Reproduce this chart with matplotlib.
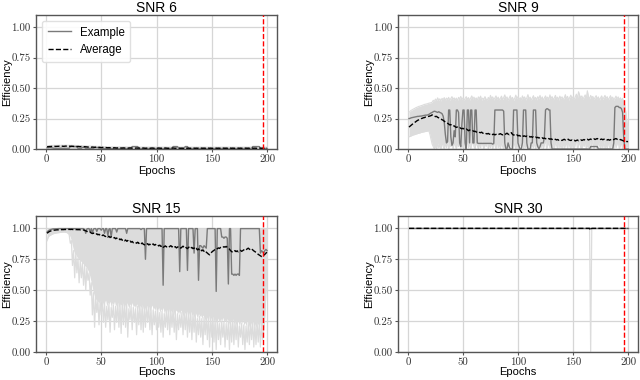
import numpy as np
import matplotlib
matplotlib.use("Agg")
import matplotlib.pyplot as plt
from matplotlib.ticker import FuncFormatter

plt.rcParams['font.family'] = ['Liberation Sans', 'DejaVu Sans']

epochs = np.arange(1, 201)
titles = ["SNR 6", "SNR 9", "SNR 15", "SNR 30"]
stop_epoch = 196

# ---------------- SNR 6 ----------------
avg6 = [
    0.018, 0.019, 0.020, 0.020, 0.021, 0.021, 0.022, 0.022, 0.021, 0.022,
    0.022, 0.023, 0.022, 0.023, 0.023, 0.022, 0.023, 0.024, 0.023, 0.022,
    0.023, 0.022, 0.023, 0.022, 0.021, 0.022, 0.021, 0.020, 0.021, 0.020,
    0.019, 0.020, 0.019, 0.018, 0.019, 0.018, 0.017, 0.016, 0.017, 0.016,
    0.015, 0.016, 0.015, 0.014, 0.015, 0.014, 0.013, 0.014, 0.013, 0.012,
    0.013, 0.012, 0.011, 0.012, 0.011, 0.010, 0.011, 0.010, 0.009, 0.010,
    0.009, 0.010, 0.009, 0.008, 0.009, 0.008, 0.009, 0.008, 0.008, 0.009,
    0.008, 0.009, 0.008, 0.007, 0.008, 0.009, 0.008, 0.007, 0.008, 0.008,
    0.007, 0.008, 0.007, 0.008, 0.007, 0.006, 0.007, 0.008, 0.007, 0.006,
    0.007, 0.006, 0.007, 0.006, 0.007, 0.008, 0.007, 0.006, 0.007, 0.006,
    0.007, 0.008, 0.007, 0.006, 0.007, 0.006, 0.007, 0.008, 0.007, 0.006,
    0.006, 0.007, 0.006, 0.007, 0.008, 0.007, 0.006, 0.007, 0.006, 0.007,
    0.007, 0.006, 0.007, 0.006, 0.007, 0.008, 0.007, 0.006, 0.007, 0.006,
    0.006, 0.007, 0.006, 0.007, 0.006, 0.007, 0.006, 0.007, 0.006, 0.007,
    0.007, 0.006, 0.007, 0.006, 0.007, 0.006, 0.007, 0.006, 0.007, 0.006,
    0.006, 0.007, 0.006, 0.007, 0.006, 0.007, 0.006, 0.007, 0.006, 0.007,
    0.007, 0.006, 0.007, 0.006, 0.007, 0.006, 0.007, 0.006, 0.007, 0.006,
    0.006, 0.007, 0.006, 0.007, 0.006, 0.007, 0.006, 0.007, 0.006, 0.007,
    0.007, 0.006, 0.007, 0.006, 0.007, 0.006, 0.007, 0.006, 0.007, 0.006,
    0.006, 0.007, 0.006, 0.007, 0.006, 0.007, 0.006, 0.007, 0.006, 0.007,
]
ex6 = [
    0.010, 0.010, 0.012, 0.012, 0.010, 0.008, 0.006, 0.006, 0.005, 0.005,
    0.005, 0.005, 0.006, 0.006, 0.005, 0.005, 0.006, 0.005, 0.005, 0.005,
    0.005, 0.020, 0.020, 0.021, 0.021, 0.020, 0.020, 0.020, 0.005, 0.005,
    0.005, 0.005, 0.014, 0.014, 0.014, 0.005, 0.005, 0.005, 0.005, 0.005,
    0.005, 0.005, 0.005, 0.012, 0.012, 0.012, 0.012, 0.005, 0.005, 0.005,
    0.004, 0.004, 0.004, 0.004, 0.004, 0.004, 0.004, 0.004, 0.004, 0.004,
    0.004, 0.004, 0.004, 0.004, 0.004, 0.004, 0.004, 0.004, 0.004, 0.004,
    0.004, 0.004, 0.004, 0.004, 0.004, 0.004, 0.004, 0.020, 0.020, 0.020,
    0.020, 0.020, 0.020, 0.004, 0.004, 0.004, 0.004, 0.004, 0.004, 0.004,
    0.004, 0.004, 0.004, 0.004, 0.004, 0.004, 0.004, 0.004, 0.004, 0.004,
    0.004, 0.004, 0.004, 0.004, 0.004, 0.004, 0.004, 0.004, 0.004, 0.004,
    0.004, 0.004, 0.004, 0.004, 0.020, 0.020, 0.020, 0.020, 0.020, 0.004,
    0.004, 0.004, 0.004, 0.004, 0.004, 0.020, 0.020, 0.020, 0.004, 0.004,
    0.004, 0.004, 0.004, 0.004, 0.004, 0.004, 0.004, 0.004, 0.004, 0.004,
    0.004, 0.004, 0.004, 0.004, 0.004, 0.004, 0.004, 0.004, 0.004, 0.004,
    0.004, 0.004, 0.004, 0.004, 0.004, 0.004, 0.004, 0.004, 0.004, 0.004,
    0.004, 0.004, 0.004, 0.004, 0.004, 0.004, 0.004, 0.004, 0.004, 0.004,
    0.004, 0.004, 0.004, 0.004, 0.004, 0.004, 0.004, 0.004, 0.004, 0.004,
    0.004, 0.004, 0.004, 0.004, 0.004, 0.004, 0.020, 0.020, 0.020, 0.020,
    0.020, 0.020, 0.020, 0.004, 0.004, 0.004, 0.004, 0.004, 0.004, 0.004,
]
hi6 = [
    0.026, 0.027, 0.028, 0.028, 0.029, 0.029, 0.030, 0.030, 0.029, 0.030,
    0.030, 0.031, 0.030, 0.031, 0.031, 0.030, 0.031, 0.032, 0.031, 0.030,
    0.031, 0.030, 0.031, 0.030, 0.029, 0.030, 0.029, 0.028, 0.029, 0.028,
    0.027, 0.028, 0.027, 0.026, 0.027, 0.026, 0.025, 0.024, 0.025, 0.024,
    0.023, 0.024, 0.023, 0.022, 0.023, 0.022, 0.021, 0.022, 0.021, 0.020,
    0.021, 0.020, 0.019, 0.020, 0.019, 0.018, 0.019, 0.018, 0.017, 0.018,
    0.018, 0.019, 0.018, 0.017, 0.018, 0.017, 0.018, 0.017, 0.017, 0.018,
    0.017, 0.018, 0.017, 0.016, 0.017, 0.018, 0.017, 0.016, 0.017, 0.017,
    0.016, 0.017, 0.016, 0.017, 0.016, 0.015, 0.016, 0.017, 0.016, 0.015,
    0.016, 0.015, 0.016, 0.015, 0.016, 0.017, 0.016, 0.015, 0.016, 0.015,
    0.016, 0.017, 0.016, 0.015, 0.016, 0.015, 0.016, 0.017, 0.016, 0.015,
    0.015, 0.016, 0.015, 0.016, 0.017, 0.016, 0.015, 0.016, 0.015, 0.016,
    0.016, 0.015, 0.016, 0.015, 0.016, 0.017, 0.016, 0.015, 0.016, 0.015,
    0.015, 0.016, 0.015, 0.016, 0.015, 0.016, 0.015, 0.016, 0.015, 0.016,
    0.016, 0.015, 0.016, 0.015, 0.016, 0.015, 0.016, 0.015, 0.016, 0.015,
    0.015, 0.016, 0.015, 0.016, 0.015, 0.016, 0.015, 0.016, 0.015, 0.016,
    0.016, 0.015, 0.016, 0.015, 0.016, 0.015, 0.016, 0.015, 0.016, 0.015,
    0.015, 0.016, 0.015, 0.016, 0.015, 0.016, 0.015, 0.016, 0.015, 0.016,
    0.016, 0.015, 0.016, 0.015, 0.016, 0.015, 0.016, 0.015, 0.016, 0.015,
    0.015, 0.016, 0.015, 0.016, 0.015, 0.016, 0.015, 0.016, 0.015, 0.016,
]

# ---------------- SNR 9 ----------------
avg9 = [
    0.180, 0.188, 0.195, 0.203, 0.210, 0.218, 0.224, 0.230, 0.236, 0.240,
    0.244, 0.249, 0.252, 0.256, 0.258, 0.262, 0.264, 0.267, 0.268, 0.271,
    0.274, 0.280, 0.272, 0.270, 0.266, 0.268, 0.260, 0.256, 0.252, 0.248,
    0.240, 0.236, 0.228, 0.222, 0.218, 0.212, 0.205, 0.198, 0.200, 0.192,
    0.186, 0.190, 0.182, 0.178, 0.180, 0.172, 0.176, 0.170, 0.166, 0.170,
    0.164, 0.160, 0.164, 0.158, 0.150, 0.156, 0.152, 0.148, 0.150, 0.144,
    0.146, 0.140, 0.138, 0.142, 0.136, 0.134, 0.138, 0.130, 0.128, 0.132,
    0.126, 0.124, 0.128, 0.122, 0.120, 0.126, 0.118, 0.122, 0.116, 0.120,
    0.124, 0.118, 0.122, 0.126, 0.120, 0.116, 0.122, 0.118, 0.124, 0.130,
    0.122, 0.118, 0.128, 0.134, 0.120, 0.114, 0.118, 0.112, 0.116, 0.108,
    0.112, 0.106, 0.110, 0.114, 0.104, 0.108, 0.102, 0.106, 0.100, 0.104,
    0.098, 0.102, 0.096, 0.100, 0.094, 0.098, 0.092, 0.096, 0.090, 0.094,
    0.088, 0.092, 0.086, 0.090, 0.084, 0.088, 0.082, 0.086, 0.080, 0.084,
    0.078, 0.082, 0.076, 0.080, 0.074, 0.078, 0.072, 0.076, 0.074, 0.070,
    0.076, 0.080, 0.074, 0.078, 0.084, 0.076, 0.072, 0.070, 0.074, 0.068,
    0.072, 0.066, 0.070, 0.074, 0.068, 0.072, 0.076, 0.070, 0.074, 0.078,
    0.072, 0.076, 0.080, 0.074, 0.078, 0.082, 0.076, 0.080, 0.084, 0.078,
    0.082, 0.086, 0.080, 0.084, 0.078, 0.082, 0.076, 0.080, 0.084, 0.078,
    0.074, 0.078, 0.072, 0.076, 0.080, 0.074, 0.078, 0.082, 0.086, 0.080,
    0.076, 0.072, 0.078, 0.074, 0.070, 0.066, 0.062, 0.066, 0.060, 0.062,
]
ex9 = [
    0.250, 0.252, 0.256, 0.258, 0.260, 0.262, 0.264, 0.266, 0.268, 0.268,
    0.270, 0.270, 0.272, 0.274, 0.276, 0.278, 0.278, 0.280, 0.284, 0.290,
    0.296, 0.300, 0.306, 0.310, 0.308, 0.304, 0.300, 0.306, 0.300, 0.296,
    0.290, 0.270, 0.220, 0.120, 0.050, 0.060, 0.320, 0.320, 0.100, 0.030,
    0.050, 0.150, 0.100, 0.320, 0.320, 0.300, 0.050, 0.020, 0.200, 0.320,
    0.320, 0.050, 0.000, 0.320, 0.320, 0.050, 0.320, 0.320, 0.050, 0.050,
    0.320, 0.320, 0.050, 0.046, 0.046, 0.046, 0.046, 0.046, 0.046, 0.046,
    0.046, 0.046, 0.046, 0.046, 0.046, 0.046, 0.040, 0.046, 0.320, 0.320,
    0.320, 0.320, 0.320, 0.320, 0.320, 0.320, 0.310, 0.050, 0.000, 0.000,
    0.050, 0.020, 0.000, 0.000, 0.000, 0.320, 0.320, 0.320, 0.320, 0.050,
    0.020, 0.000, 0.000, 0.050, 0.320, 0.320, 0.320, 0.050, 0.000, 0.000,
    0.000, 0.050, 0.050, 0.320, 0.320, 0.320, 0.050, 0.020, 0.000, 0.020,
    0.050, 0.050, 0.050, 0.100, 0.320, 0.330, 0.330, 0.320, 0.320, 0.050,
    0.000, 0.000, 0.000, 0.000, 0.000, 0.000, 0.000, 0.000, 0.000, 0.000,
    0.000, 0.000, 0.000, 0.000, 0.000, 0.000, 0.000, 0.000, 0.000, 0.000,
    0.000, 0.000, 0.000, 0.000, 0.000, 0.000, 0.000, 0.000, 0.000, 0.000,
    0.000, 0.000, 0.000, 0.000, 0.000, 0.020, 0.020, 0.020, 0.020, 0.020,
    0.020, 0.020, 0.000, 0.000, 0.000, 0.000, 0.000, 0.000, 0.000, 0.000,
    0.000, 0.000, 0.000, 0.000, 0.000, 0.000, 0.050, 0.340, 0.350, 0.350,
    0.350, 0.340, 0.340, 0.330, 0.300, 0.100, 0.000, 0.000, 0.000, 0.000,
]
hi9 = [
    0.300, 0.310, 0.318, 0.322, 0.328, 0.332, 0.338, 0.342, 0.346, 0.350,
    0.352, 0.356, 0.358, 0.362, 0.366, 0.368, 0.370, 0.372, 0.376, 0.378,
    0.380, 0.384, 0.400, 0.390, 0.410, 0.396, 0.420, 0.400, 0.412, 0.394,
    0.416, 0.404, 0.422, 0.398, 0.418, 0.406, 0.424, 0.400, 0.414, 0.430,
    0.408, 0.420, 0.402, 0.418, 0.396, 0.424, 0.410, 0.432, 0.404, 0.420,
    0.398, 0.416, 0.430, 0.406, 0.422, 0.400, 0.418, 0.436, 0.410, 0.426,
    0.404, 0.420, 0.398, 0.428, 0.412, 0.434, 0.400, 0.418, 0.406, 0.430,
    0.410, 0.396, 0.424, 0.406, 0.440, 0.412, 0.428, 0.402, 0.420, 0.436,
    0.408, 0.426, 0.400, 0.418, 0.434, 0.404, 0.422, 0.444, 0.410, 0.428,
    0.400, 0.420, 0.438, 0.406, 0.424, 0.398, 0.416, 0.442, 0.412, 0.430,
    0.404, 0.422, 0.400, 0.436, 0.414, 0.428, 0.402, 0.420, 0.446, 0.410,
    0.426, 0.400, 0.418, 0.438, 0.408, 0.424, 0.402, 0.430, 0.412, 0.440,
    0.406, 0.428, 0.398, 0.420, 0.436, 0.410, 0.426, 0.404, 0.444, 0.416,
    0.430, 0.402, 0.422, 0.440, 0.408, 0.426, 0.400, 0.434, 0.414, 0.428,
    0.404, 0.420, 0.446, 0.410, 0.432, 0.400, 0.424, 0.442, 0.412, 0.430,
    0.406, 0.428, 0.450, 0.416, 0.470, 0.440, 0.420, 0.436, 0.408, 0.426,
    0.444, 0.414, 0.478, 0.430, 0.410, 0.440, 0.420, 0.432, 0.404, 0.424,
    0.438, 0.410, 0.428, 0.400, 0.420, 0.436, 0.406, 0.424, 0.440, 0.414,
    0.430, 0.402, 0.420, 0.438, 0.410, 0.426, 0.400, 0.418, 0.434, 0.412,
    0.428, 0.404, 0.420, 0.400, 0.416, 0.380, 0.360, 0.300, 0.220, 0.180,
]
lo9 = [
    0.100, 0.104, 0.108, 0.112, 0.116, 0.118, 0.122, 0.124, 0.128, 0.130,
    0.132, 0.136, 0.138, 0.140, 0.142, 0.144, 0.146, 0.148, 0.150, 0.120,
    0.080, 0.040, 0.020, 0.000, 0.030, 0.000, 0.050, 0.010, 0.040, 0.000,
    0.060, 0.020, 0.000, 0.050, 0.010, 0.070, 0.000, 0.040, 0.020, 0.060,
    0.000, 0.050, 0.030, 0.000, 0.060, 0.020, 0.080, 0.000, 0.040, 0.010,
    0.060, 0.000, 0.030, 0.070, 0.010, 0.050, 0.000, 0.040, 0.080, 0.020,
    0.000, 0.060, 0.030, 0.000, 0.050, 0.010, 0.070, 0.030, 0.000, 0.050,
    0.020, 0.080, 0.000, 0.040, 0.010, 0.060, 0.000, 0.050, 0.030, 0.000,
    0.070, 0.010, 0.040, 0.000, 0.060, 0.020, 0.000, 0.050, 0.080, 0.010,
    0.040, 0.000, 0.060, 0.020, 0.000, 0.070, 0.030, 0.000, 0.050, 0.010,
    0.000, 0.050, 0.020, 0.080, 0.000, 0.040, 0.010, 0.060, 0.000, 0.030,
    0.070, 0.000, 0.040, 0.010, 0.060, 0.000, 0.050, 0.020, 0.000, 0.080,
    0.010, 0.050, 0.000, 0.040, 0.070, 0.000, 0.030, 0.060, 0.010, 0.000,
    0.050, 0.020, 0.000, 0.060, 0.030, 0.000, 0.080, 0.010, 0.040, 0.000,
    0.060, 0.000, 0.030, 0.050, 0.000, 0.070, 0.020, 0.000, 0.050, 0.010,
    0.000, 0.040, 0.080, 0.000, 0.030, 0.060, 0.010, 0.000, 0.050, 0.020,
    0.070, 0.000, 0.040, 0.010, 0.060, 0.000, 0.030, 0.080, 0.000, 0.050,
    0.020, 0.000, 0.060, 0.030, 0.000, 0.050, 0.010, 0.070, 0.000, 0.040,
    0.000, 0.060, 0.020, 0.000, 0.050, 0.030, 0.000, 0.070, 0.010, 0.040,
    0.060, 0.000, 0.030, 0.050, 0.000, 0.040, 0.020, 0.000, 0.030, 0.010,
]

# ---------------- SNR 15 ----------------
avg15 = [
    0.960, 0.968, 0.974, 0.978, 0.981, 0.983, 0.985, 0.986, 0.987, 0.988,
    0.988, 0.989, 0.989, 0.990, 0.990, 0.990, 0.991, 0.991, 0.991, 0.991,
    0.992, 0.991, 0.992, 0.991, 0.990, 0.991, 0.990, 0.990, 0.989, 0.990,
    0.988, 0.989, 0.986, 0.987, 0.984, 0.980, 0.976, 0.972, 0.968, 0.970,
    0.962, 0.958, 0.962, 0.954, 0.950, 0.956, 0.948, 0.952, 0.944, 0.950,
    0.942, 0.946, 0.938, 0.934, 0.940, 0.930, 0.936, 0.926, 0.932, 0.928,
    0.920, 0.926, 0.916, 0.922, 0.912, 0.918, 0.908, 0.914, 0.904, 0.910,
    0.900, 0.906, 0.896, 0.902, 0.892, 0.898, 0.888, 0.894, 0.884, 0.890,
    0.886, 0.880, 0.888, 0.878, 0.884, 0.874, 0.882, 0.872, 0.868, 0.862,
    0.870, 0.876, 0.866, 0.872, 0.862, 0.868, 0.874, 0.864, 0.870, 0.860,
    0.866, 0.858, 0.864, 0.854, 0.860, 0.846, 0.852, 0.858, 0.850, 0.856,
    0.848, 0.854, 0.860, 0.850, 0.856, 0.846, 0.852, 0.842, 0.848, 0.854,
    0.846, 0.840, 0.848, 0.856, 0.844, 0.850, 0.842, 0.836, 0.846, 0.852,
    0.840, 0.846, 0.836, 0.842, 0.830, 0.838, 0.826, 0.834, 0.822, 0.830,
    0.818, 0.826, 0.814, 0.820, 0.808, 0.800, 0.792, 0.786, 0.798, 0.808,
    0.816, 0.822, 0.830, 0.826, 0.836, 0.842, 0.838, 0.846, 0.850, 0.846,
    0.852, 0.848, 0.854, 0.846, 0.840, 0.832, 0.820, 0.812, 0.806, 0.814,
    0.820, 0.812, 0.818, 0.810, 0.816, 0.822, 0.814, 0.820, 0.826, 0.832,
    0.826, 0.834, 0.840, 0.832, 0.826, 0.834, 0.826, 0.818, 0.812, 0.806,
    0.798, 0.790, 0.784, 0.778, 0.772, 0.776, 0.782, 0.790, 0.800, 0.806,
]
ex15 = [
    0.970, 0.980, 0.985, 0.990, 0.992, 0.995, 0.996, 0.996, 0.997, 0.997,
    0.998, 0.998, 0.998, 0.998, 0.998, 0.998, 0.998, 0.998, 0.998, 0.998,
    0.998, 0.998, 0.998, 0.998, 0.998, 0.998, 0.998, 0.998, 0.998, 0.998,
    0.998, 0.998, 0.998, 0.998, 0.990, 0.960, 0.995, 0.998, 0.998, 0.970,
    0.998, 0.960, 0.995, 0.998, 0.998, 0.975, 0.998, 0.998, 0.998, 0.985,
    0.998, 0.998, 0.960, 0.998, 0.998, 0.940, 0.995, 0.998, 0.930, 0.998,
    0.998, 0.998, 0.998, 0.970, 0.998, 0.998, 0.998, 0.998, 0.998, 0.998,
    0.998, 0.998, 0.960, 0.998, 0.998, 0.998, 0.998, 0.998, 0.998, 0.998,
    0.998, 0.998, 0.998, 0.998, 0.998, 0.990, 0.998, 0.998, 0.998, 0.750,
    0.998, 0.998, 0.998, 0.998, 0.998, 0.998, 0.998, 0.998, 0.998, 0.998,
    0.998, 0.998, 0.998, 0.998, 0.998, 0.540, 0.998, 0.998, 0.998, 0.998,
    0.998, 0.998, 0.998, 0.998, 0.998, 0.998, 0.998, 0.998, 0.998, 0.998,
    0.650, 0.998, 0.998, 0.998, 0.998, 0.998, 0.998, 0.660, 0.998, 0.998,
    0.998, 0.998, 0.998, 0.800, 0.998, 0.998, 0.998, 0.580, 0.860, 0.860,
    0.850, 0.840, 0.860, 0.850, 0.840, 0.998, 0.998, 0.998, 0.998, 0.998,
    0.998, 0.998, 0.998, 0.490, 0.998, 0.998, 0.998, 0.998, 0.930, 0.930,
    0.920, 0.930, 0.930, 0.920, 0.550, 0.998, 0.998, 0.630, 0.630, 0.620,
    0.630, 0.620, 0.630, 0.630, 0.620, 0.998, 0.998, 0.998, 0.998, 0.998,
    0.998, 0.998, 0.998, 0.998, 0.998, 0.998, 0.998, 0.998, 0.998, 0.998,
    0.998, 0.998, 0.998, 0.800, 0.820, 0.810, 0.800, 0.820, 0.830, 0.820,
]
lo15 = [
    0.900, 0.930, 0.940, 0.945, 0.950, 0.955, 0.958, 0.960, 0.962, 0.964,
    0.965, 0.966, 0.968, 0.968, 0.970, 0.970, 0.970, 0.968, 0.966, 0.960,
    0.950, 0.930, 0.900, 0.860, 0.820, 0.800, 0.790, 0.770, 0.760, 0.750,
    0.740, 0.730, 0.720, 0.710, 0.700, 0.690, 0.680, 0.660, 0.640, 0.600,
    0.560, 0.520, 0.480, 0.450, 0.430, 0.420, 0.410, 0.400, 0.420, 0.390,
    0.410, 0.380, 0.400, 0.420, 0.370, 0.400, 0.390, 0.410, 0.360, 0.400,
    0.380, 0.410, 0.370, 0.390, 0.400, 0.360, 0.390, 0.380, 0.410, 0.370,
    0.390, 0.360, 0.400, 0.380, 0.350, 0.390, 0.370, 0.400, 0.360, 0.380,
    0.350, 0.390, 0.370, 0.340, 0.380, 0.360, 0.390, 0.350, 0.370, 0.340,
    0.380, 0.350, 0.370, 0.330, 0.360, 0.380, 0.340, 0.360, 0.330, 0.370,
    0.340, 0.360, 0.320, 0.350, 0.330, 0.360, 0.310, 0.340, 0.350, 0.320,
    0.350, 0.310, 0.340, 0.320, 0.350, 0.300, 0.330, 0.340, 0.310, 0.330,
    0.300, 0.340, 0.320, 0.290, 0.330, 0.310, 0.340, 0.300, 0.320, 0.290,
    0.330, 0.300, 0.310, 0.280, 0.320, 0.300, 0.270, 0.310, 0.290, 0.300,
    0.270, 0.300, 0.280, 0.260, 0.290, 0.270, 0.300, 0.250, 0.280, 0.260,
    0.290, 0.250, 0.270, 0.240, 0.280, 0.260, 0.230, 0.270, 0.250, 0.280,
    0.240, 0.260, 0.230, 0.270, 0.250, 0.220, 0.260, 0.240, 0.270, 0.230,
    0.250, 0.220, 0.260, 0.240, 0.210, 0.250, 0.230, 0.260, 0.220, 0.240,
    0.210, 0.250, 0.230, 0.200, 0.240, 0.220, 0.250, 0.210, 0.230, 0.200,
    0.240, 0.220, 0.250, 0.210, 0.230, 0.200, 0.180, 0.300, 0.500, 0.700,
]
min15 = [
    0.900, 0.930, 0.940, 0.945, 0.950, 0.955, 0.958, 0.960, 0.962, 0.964,
    0.965, 0.966, 0.968, 0.968, 0.970, 0.970, 0.970, 0.968, 0.966, 0.960,
    0.950, 0.880, 0.900, 0.700, 0.820, 0.600, 0.800, 0.640, 0.760, 0.560,
    0.740, 0.600, 0.720, 0.540, 0.700, 0.500, 0.680, 0.580, 0.640, 0.460,
    0.560, 0.300, 0.480, 0.200, 0.450, 0.320, 0.420, 0.220, 0.420, 0.300,
    0.410, 0.240, 0.400, 0.200, 0.370, 0.260, 0.390, 0.160, 0.360, 0.280,
    0.380, 0.180, 0.370, 0.240, 0.400, 0.200, 0.390, 0.150, 0.410, 0.220,
    0.390, 0.200, 0.400, 0.120, 0.350, 0.260, 0.370, 0.180, 0.360, 0.240,
    0.350, 0.140, 0.370, 0.220, 0.380, 0.180, 0.390, 0.160, 0.370, 0.200,
    0.380, 0.240, 0.370, 0.180, 0.360, 0.140, 0.340, 0.220, 0.330, 0.180,
    0.340, 0.200, 0.320, 0.160, 0.330, 0.120, 0.310, 0.200, 0.350, 0.180,
    0.350, 0.140, 0.340, 0.200, 0.350, 0.160, 0.330, 0.100, 0.310, 0.180,
    0.300, 0.200, 0.320, 0.140, 0.330, 0.180, 0.340, 0.120, 0.320, 0.160,
    0.330, 0.100, 0.310, 0.160, 0.320, 0.080, 0.270, 0.140, 0.290, 0.120,
    0.270, 0.060, 0.280, 0.140, 0.290, 0.100, 0.300, 0.040, 0.280, 0.120,
    0.290, 0.080, 0.270, 0.020, 0.280, 0.100, 0.230, 0.060, 0.250, 0.120,
    0.240, 0.040, 0.230, 0.100, 0.250, 0.020, 0.260, 0.080, 0.270, 0.060,
    0.250, 0.100, 0.260, 0.040, 0.210, 0.120, 0.230, 0.060, 0.220, 0.020,
    0.210, 0.080, 0.230, 0.060, 0.240, 0.100, 0.250, 0.040, 0.230, 0.060,
    0.240, 0.080, 0.250, 0.040, 0.230, 0.100, 0.180, 0.300, 0.500, 0.700,
]
top15 = 1.0

# ---------------- SNR 30 ----------------
avg30 = [1.0] * 165 + [0.985] + [1.0] * 34
ex30 = [1.0] * 200
run30 = [1.0] * 165 + [0.0] + [1.0] * 34

panels = [
    dict(avg=avg6, ex=ex6, lo=None, hi=hi6, spikes=None, fill_to=0.0),
    dict(avg=avg9, ex=ex9, lo=lo9, hi=hi9, spikes=None, fill_to=None),
    dict(avg=avg15, ex=ex15, lo=lo15, hi=None, spikes=min15, fill_to=top15),
    dict(avg=avg30, ex=ex30, lo=None, hi=None, spikes=run30, fill_to=None),
]

W, H = 640, 380
fig = plt.figure(figsize=(W / 100, H / 100), dpi=100)
boxes = [
    (36, 15, 241, 134),
    (398, 15, 240, 134),
    (36, 216, 241, 136),
    (398, 216, 240, 136),
]
light = '#dcdcdc'
spine_c = '#555555'

for i, (bx, p) in enumerate(zip(boxes, panels)):
    x0, y0, w, h = bx
    ax = fig.add_axes([x0 / W, 1 - (y0 + h) / H, w / W, h / H])
    x = epochs
    if p['hi'] is not None and p['lo'] is None:
        ax.fill_between(x, 0.0, p['hi'], color=light, lw=0, zorder=1)
        ax.plot(x, p['hi'], color=light, lw=0.8, zorder=1)
    if p['lo'] is not None and p['hi'] is not None:
        ax.fill_between(x, p['lo'], p['hi'], color=light, lw=0, zorder=1)
        ax.plot(x, p['hi'], color=light, lw=0.8, zorder=1)
        ax.plot(x, p['lo'], color=light, lw=0.8, zorder=1)
    if p['lo'] is not None and p['hi'] is None:
        ax.fill_between(x, p['lo'], p['fill_to'], color=light, lw=0, zorder=1)
    if p['spikes'] is not None:
        ax.plot(x, p['spikes'], color=light, lw=0.9, zorder=1)
    ax.plot(x, p['ex'], color='#7a7a7a', lw=1.0, zorder=3, label='Example')
    ax.plot(x, p['avg'], color='black', lw=1.0, ls='--', zorder=4, label='Average')
    ax.axvline(stop_epoch, color='red', lw=1.0, ls='--', zorder=5)

    ax.set_xlim(-9, 209)
    ax.set_ylim(0, 1.1)
    ax.set_xticks([0, 50, 100, 150, 200])
    ax.set_yticks([0.0, 0.25, 0.5, 0.75, 1.0])
    ax.xaxis.set_major_formatter(FuncFormatter(lambda v, pos: f'{v:.0f}'))
    ax.yaxis.set_major_formatter(FuncFormatter(lambda v, pos: f'{v:.2f}'))
    ax.tick_params(labelsize=7.8, colors='#333333', length=2.5, width=0.8,
                   color=spine_c, pad=1.5, labelfontfamily='cmr10')
    ax.grid(True, color='#d6d6d6', lw=0.9, zorder=0)
    ax.set_axisbelow(True)
    for s in ax.spines.values():
        s.set_color(spine_c)
        s.set_linewidth(1.0)
    ax.set_title(titles[i], fontsize=10, pad=2)
    ax.set_xlabel('Epochs', fontsize=8.0)
    ax.set_ylabel('Efficiency', fontsize=8.0)
    ax.yaxis.set_label_coords(-0.097 if i % 2 == 0 else -0.099, 0.5)
    ax.xaxis.set_label_coords(0.5, -0.125 if i < 2 else -0.113)
    if i == 0:
        ax.legend(loc='upper left', fontsize=8.3, framealpha=0.9,
                  edgecolor='#dddddd', borderpad=0.5, handlelength=2.0,
                  labelspacing=0.5, borderaxespad=0.5)

fig.savefig('out.png', dpi=100)
